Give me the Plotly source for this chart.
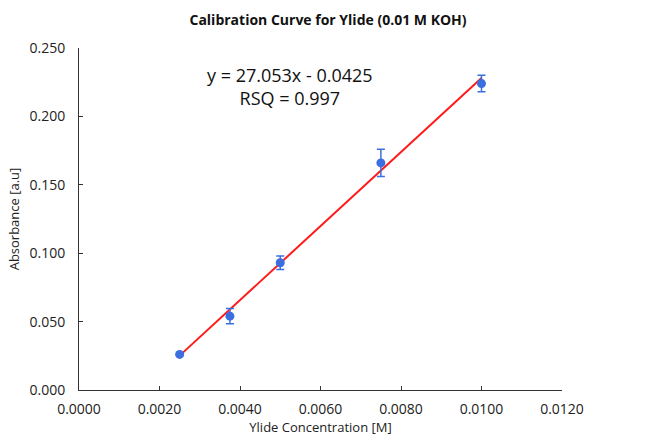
import plotly.graph_objects as go

conc = [0.0025, 0.00375, 0.005, 0.0075, 0.01]
absorb = [0.026, 0.054, 0.093, 0.166, 0.224]
err = [0.0, 0.0055, 0.005, 0.010, 0.006]
slope, intercept = 27.053, -0.0425
fit_x = [0.0025, 0.01]
fit_y = [slope * x + intercept for x in fit_x]

fig = go.Figure()
fig.add_trace(go.Scatter(x=fit_x, y=fit_y, mode="lines",
                         line=dict(color="#ff1a1a", width=2), showlegend=False))
fig.add_trace(go.Scatter(x=conc, y=absorb, mode="markers",
                         marker=dict(color="#3b6fe0", size=9),
                         error_y=dict(type="data", array=err, visible=True,
                                      color="#3b6fe0", thickness=1.5, width=4),
                         showlegend=False))

fig.add_annotation(x=0.00525, y=0.222, xref="x", yref="y",
                   text="y = 27.053x - 0.0425<br>RSQ = 0.997", showarrow=False,
                   font=dict(size=18, color="#111", family="Open Sans"), align="center")

fig.update_layout(
    width=656, height=440,
    margin=dict(l=79, r=94, t=48, b=50),
    paper_bgcolor="white", plot_bgcolor="white",
    font=dict(family="Open Sans", color="#222"),
    title=dict(text="<b>Calibration Curve for Ylide (0.01 M KOH)</b>", x=0.5, xanchor="center",
               y=0.955, yanchor="middle", font=dict(size=14, color="#111")),
)
fig.update_xaxes(range=[0, 0.012], dtick=0.002, tickformat=".4f", showgrid=False, zeroline=False,
                 showline=True, linecolor="#333", linewidth=1, ticks="inside", ticklen=4,
                 tickcolor="#333", tickfont=dict(size=14), ticklabelstandoff=6, automargin=False,
                 title=dict(text="Ylide Concentration [M]", font=dict(size=13), standoff=6))
fig.update_yaxes(range=[0, 0.25], dtick=0.05, tickformat=".3f", showgrid=False, zeroline=False,
                 showline=True, linecolor="#333", linewidth=1, ticks="inside", ticklen=4,
                 tickcolor="#333", tickfont=dict(size=14), ticklabelstandoff=10, automargin=False,
                 title=dict(text="Absorbance [a.u]", font=dict(size=13), standoff=6))

fig.write_html("out.html")
